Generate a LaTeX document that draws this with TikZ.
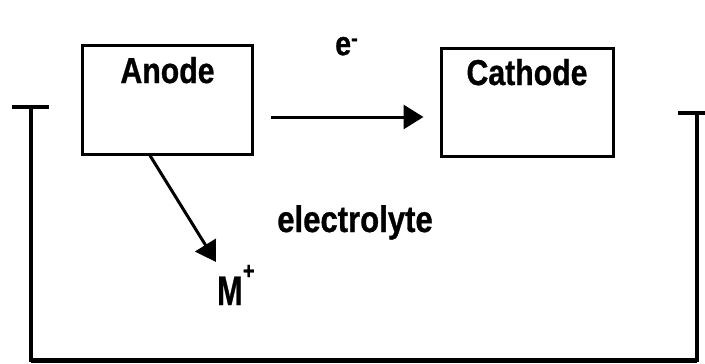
\documentclass[tikz,border=0pt]{standalone}
\usepackage{fontspec}
\newfontfamily\diagfont[FakeStretch=0.84, BoldFeatures={FakeBold=0.8}]{Liberation Sans}
\usetikzlibrary{arrows.meta}

\begin{document}
\begin{tikzpicture}[x=1pt, y=-1pt, >={Triangle[length=20pt,width=24pt]},
    electrode/.style={
            draw,
            rectangle,
            line width=3pt,
            inner sep=0pt,
            minimum width=170pt,
            text depth=71pt,
            font=\diagfont\bfseries\fontsize{36}{40}\selectfont
        },
        tag/.style={
            inner sep=0pt,
            font=\diagfont\bfseries\fontsize{36}{40}\selectfont
        },
        wire/.style={line width=3.5pt},
        flow/.style={->, line width=3pt}
]
    \useasboundingbox (0,0) rectangle (705,364);

    \node [electrode, text height=38pt] (anode) at (167.5,99.5) {Anode};
    \node [electrode, text height=37pt, minimum width=172pt, right of=anode,
            node distance=359.5pt, yshift=-2.5pt] (cathode) {Cathode};

    % electrons through the outer circuit side
    \draw [flow, shorten <=16.5pt, shorten >=16pt] ([yshift=-17.5pt]anode.east)
        -- node [tag, above=60pt, font=\diagfont\bfseries\fontsize{34}{38}\selectfont] (elec) {e\textsuperscript{-}}
        ([yshift=-17.5pt]anode.east -| cathode.west);

    % ions into the electrolyte
    \node [tag, anchor=base west] (ion) at (217,305)
        {\scalebox{1}[1.15]{M}\kern0.5pt\raisebox{26pt}{\fontsize{24}{24}\selectfont +}};
    \coordinate (iontip) at (216,262);
    \draw [flow] ([xshift=-17.5pt]anode.south) -- (iontip);

    \node [tag, font=\diagfont\bfseries\fontsize{37}{40}\selectfont, anchor=base]
        (electrolyte) at (355,232) {electrolyte};

    % outer circuit
    \coordinate (lefttop) at (31,107);
    \coordinate (leftbot) at (31,360);
    \coordinate (rightbot) at (697,360);
    \coordinate (righttop) at (697,113);
    \draw [wire] (lefttop) -- (leftbot) -- (rightbot) -- (righttop);
    \draw [line width=5pt] (leftbot) -- (rightbot);
    \draw [line width=4.5pt] ([xshift=-19pt]lefttop) -- ([xshift=18pt]lefttop);
    \draw [line width=4.5pt] ([xshift=-19pt]righttop) -- ([xshift=8pt]righttop);
\end{tikzpicture}
\end{document}
